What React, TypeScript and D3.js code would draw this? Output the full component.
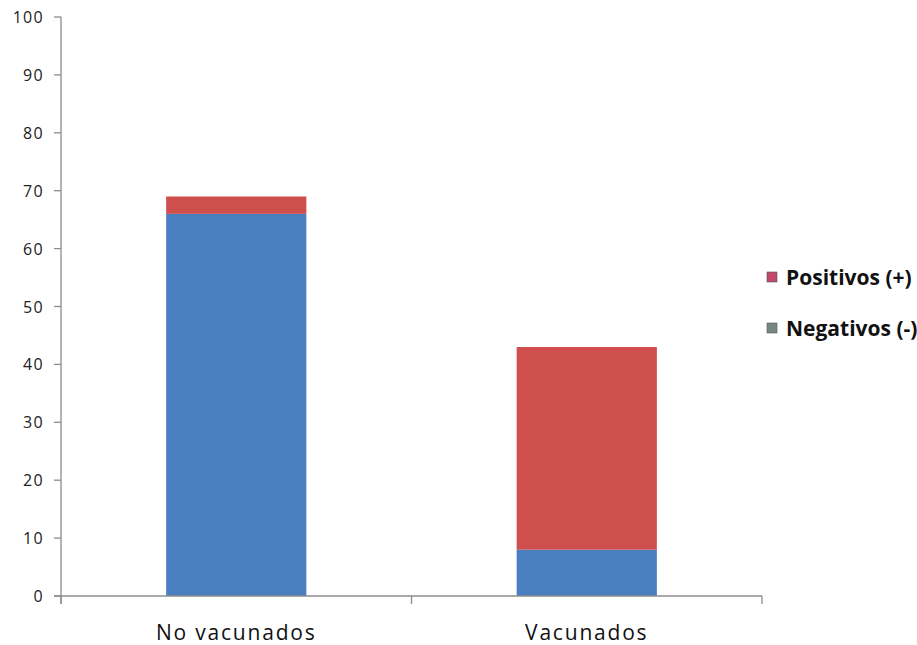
import { useEffect, useRef } from 'react';
import * as d3 from 'd3';

const categories = ['No vacunados', 'Vacunados'];
const negativos = [66, 8];
const positivos = [3, 35];
const yTicks = [0, 10, 20, 30, 40, 50, 60, 70, 80, 90, 100];
const legendItems = [
  { label: 'Positivos (+)', color: '#c3476a' },
  { label: 'Negativos (-)', color: '#778883' },
];

export default function App() {
  const svgRef = useRef<SVGSVGElement>(null);
  const width = 917;
  const height = 645;

  useEffect(() => {
    const svg = d3.select(svgRef.current);
    svg.selectAll('*').remove();

    const left = 61;
    const right = 762;
    const top = 17;
    const bottom = 596;
    const font = '"Open Sans", "DejaVu Sans", sans-serif';

    const x = d3.scaleBand().domain(categories).range([left, right]).paddingInner(0.6).paddingOuter(0.3);
    const y = d3.scaleLinear().domain([0, 100]).range([bottom, top]);

    const rows = categories.map((c, i) => ({ cat: c, neg: negativos[i], pos: positivos[i] }));
    const stack = d3.stack<any>().keys(['neg', 'pos'])(rows);
    const colors = ['#4a7fc0', '#cf4e4e'];

    stack.forEach((layer, li) => {
      svg.append('g')
        .selectAll('rect')
        .data(layer)
        .join('rect')
        .attr('x', (d: any) => x(d.data.cat)!)
        .attr('width', x.bandwidth())
        .attr('y', d => y(d[1]))
        .attr('height', d => y(d[0]) - y(d[1]))
        .attr('fill', colors[li]);
    });

    // y axis
    svg.append('line')
      .attr('x1', left).attr('x2', left).attr('y1', top).attr('y2', bottom + 8)
      .attr('stroke', '#8c8c8c').attr('stroke-width', 1.3);
    yTicks.forEach(t => {
      svg.append('line')
        .attr('x1', left - 7).attr('x2', left).attr('y1', y(t)).attr('y2', y(t))
        .attr('stroke', '#8c8c8c').attr('stroke-width', 1.3);
      svg.append('text')
        .attr('x', 44).attr('y', y(t))
        .attr('text-anchor', 'end').attr('dominant-baseline', 'central')
        .attr('fill', '#222').style('font-family', font).style('font-size', '16px')
        .style('letter-spacing', '1.3px')
        .text(t);
    });

    // x axis
    svg.append('line')
      .attr('x1', left - 7).attr('x2', right).attr('y1', bottom).attr('y2', bottom)
      .attr('stroke', '#8c8c8c').attr('stroke-width', 1.3);
    const step = (right - left) / categories.length;
    d3.range(categories.length + 1).forEach(i => {
      svg.append('line')
        .attr('x1', left + i * step).attr('x2', left + i * step)
        .attr('y1', bottom).attr('y2', bottom + 8)
        .attr('stroke', '#8c8c8c').attr('stroke-width', 1.3);
    });
    categories.forEach(c => {
      svg.append('text')
        .attr('x', x(c)! + x.bandwidth() / 2).attr('y', 640)
        .attr('text-anchor', 'middle')
        .attr('fill', '#111').style('font-family', font).style('font-size', '21px')
        .style('letter-spacing', '1.8px')
        .text(c);
    });

    // legend
    legendItems.forEach((item, i) => {
      const g = svg.append('g').attr('transform', `translate(767, ${277 + i * 51})`);
      g.append('rect')
        .attr('x', 0).attr('y', -5).attr('width', 10).attr('height', 10)
        .attr('fill', item.color).attr('stroke', '#555').attr('stroke-width', 0.6);
      g.append('text')
        .attr('x', 19).attr('y', 0).attr('dominant-baseline', 'central')
        .attr('fill', '#111').style('font-family', font).style('font-size', '21px')
        .style('font-weight', '700')
        .text(item.label);
    });
  }, []);

  return <svg ref={svgRef} width={width} height={height} style={{ display: 'block', position: 'absolute', left: 0, top: 0 }} />;
}
